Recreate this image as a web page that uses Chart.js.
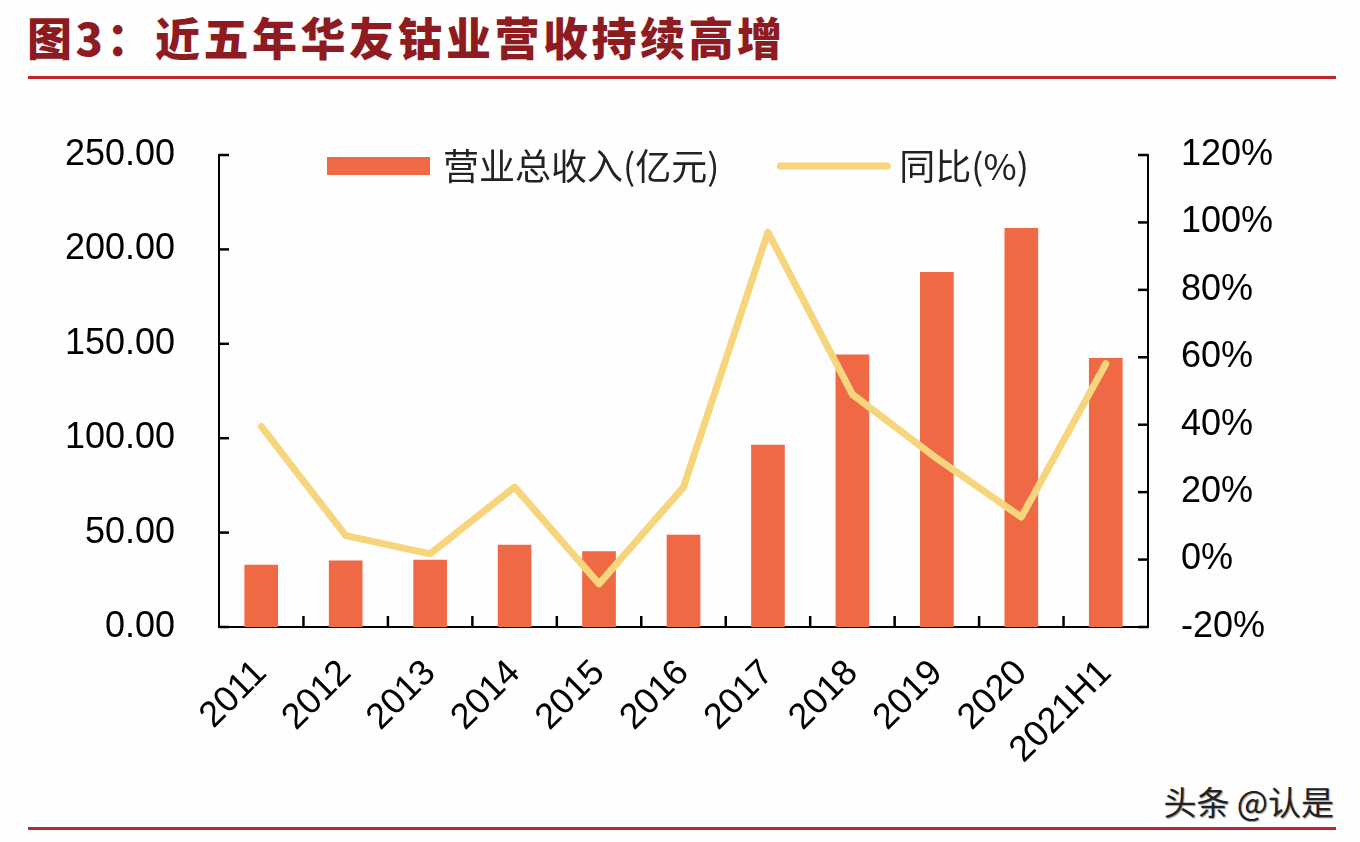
<!DOCTYPE html>
<html><head><meta charset="utf-8">
<script src="https://cdn.jsdelivr.net/npm/chart.js@4"></script>
<style>
html,body{margin:0;padding:0;background:#fefefe;}
#wrap{position:relative;width:1360px;height:842px;overflow:hidden;}
#title{position:absolute;left:27px;top:7px;font-family:"Noto Sans CJK SC";font-weight:900;font-size:45px;color:#8e1b1f;letter-spacing:3.5px;line-height:60px;white-space:nowrap;}
.rule{position:absolute;left:28px;width:1308px;height:3px;background:#c0272d;}
#wm{position:absolute;right:26px;top:778px;font-family:"Noto Sans CJK SC";font-size:33px;color:#222;text-shadow:1px 1px 1px #999;line-height:46px;}
canvas{position:absolute;left:0;top:0;}
</style></head>
<body><div id="wrap">
<div id="title">图3：近五年华友钴业营收持续高增</div>
<div class="rule" style="top:76px"></div>
<div class="rule" style="top:827px"></div>
<div id="wm">头条 @认是</div>
<canvas id="c" width="1360" height="842"></canvas>
</div>
<script>
const categories = ["2011","2012","2013","2014","2015","2016","2017","2018","2019","2020","2021H1"];
const revenue = [32.8, 35.1, 35.5, 43.4, 39.9, 48.7, 96.4, 144.1, 187.9, 211.2, 142.3];
const yoy = [39.5, 7.1, 1.7, 21.5, -7.2, 21.5, 97.1, 49.0, 30.0, 12.6, 58.1];
const revenueLabel = "营业总收入(亿元)";
const yoyLabel = "同比(%)";
const leftTicks = [0, 50, 100, 150, 200, 250];
const rightTicks = [-20, 0, 20, 40, 60, 80, 100, 120];

const numFont = {family: "'Liberation Sans', Arial, sans-serif", size: 36};
const barColor = "#ef6944";
const lineColor = "#f6d57c";

const innerTicks = {
  id: 'innerTicks',
  afterDatasetsDraw(chart) {
    const ctx = chart.ctx, a = chart.chartArea;
    ctx.save();
    ctx.strokeStyle = '#000'; ctx.lineWidth = 2.5;
    const yl = chart.scales.y, yr = chart.scales.y1, x = chart.scales.x;
    yl.ticks.forEach(t => { const p = yl.getPixelForValue(t.value); ctx.beginPath(); ctx.moveTo(a.left, p); ctx.lineTo(a.left + 10, p); ctx.stroke(); });
    yr.ticks.forEach(t => { const p = yr.getPixelForValue(t.value); ctx.beginPath(); ctx.moveTo(a.right, p); ctx.lineTo(a.right - 10, p); ctx.stroke(); });
    const n = categories.length;
    for (let i = 1; i < n; i++) {
      const p = (x.getPixelForValue(i - 1) + x.getPixelForValue(i)) / 2;
      ctx.beginPath(); ctx.moveTo(p, a.bottom); ctx.lineTo(p, a.bottom - 11); ctx.stroke();
    }
    ctx.restore();
  }
};

const customLegend = {
  id: 'customLegend',
  afterDraw(chart) {
    const ctx = chart.ctx, a = chart.chartArea;
    ctx.save();
    ctx.font = "36px 'Noto Sans CJK SC'";
    ctx.textBaseline = 'middle';
    const ds = chart.data.datasets;
    const bar = ds.find(d => d.type === 'bar'), line = ds.find(d => d.type === 'line');
    const cy = a.top + 11;
    let xx = a.left + 108;
    ctx.fillStyle = bar.backgroundColor;
    ctx.fillRect(xx, cy - 9, 103, 18);
    xx += 103 + 13;
    ctx.fillStyle = '#222';
    ctx.fillText(bar.label, xx, cy);
    xx += ctx.measureText(bar.label).width + 61;
    ctx.strokeStyle = line.borderColor; ctx.lineWidth = 7; ctx.lineCap = 'round';
    ctx.beginPath(); ctx.moveTo(xx, cy); ctx.lineTo(xx + 107, cy); ctx.stroke();
    xx += 107 + 12;
    ctx.fillText(line.label, xx, cy);
    ctx.restore();
  }
};

new Chart(document.getElementById('c'), {
  data: {
    labels: categories,
    datasets: [
      {type: 'bar', label: revenueLabel, data: revenue, yAxisID: 'y', backgroundColor: barColor, barThickness: 33, order: 1},
      {type: 'line', label: yoyLabel, data: yoy, yAxisID: 'y1', borderColor: lineColor, backgroundColor: lineColor,
       borderWidth: 7, pointRadius: 0, tension: 0, borderCapStyle: 'round', borderJoinStyle: 'round', order: 0}
    ]
  },
  options: {
    responsive: false, animation: false,
    layout: {padding: {top: 155, left: 0, right: 0, bottom: 0}},
    plugins: {legend: {display: false}, tooltip: {enabled: false}},
    scales: {
      x: {
        offset: true,
        grid: {display: false, drawTicks: false},
        border: {display: true, color: '#000', width: 2},
        ticks: {color: '#000', font: numFont, maxRotation: 45, minRotation: 45, padding: 25, autoSkip: false},
        afterFit: s => { s.height = 215; }
      },
      y: {
        position: 'left', min: 0, max: 250,
        afterBuildTicks: s => { s.ticks = leftTicks.map(v => ({value: v})); },
        grid: {display: false, drawTicks: false},
        border: {display: true, color: '#000', width: 2},
        ticks: {color: '#000', font: numFont, padding: 44, callback: v => Number(v).toFixed(2)},
        afterFit: s => { s.width = 219; }
      },
      y1: {
        position: 'right', min: -20, max: 120,
        afterBuildTicks: s => { s.ticks = rightTicks.map(v => ({value: v})); },
        grid: {display: false, drawTicks: false},
        border: {display: true, color: '#000', width: 2},
        ticks: {color: '#000', font: numFont, padding: 33, callback: v => v + '%'},
        afterFit: s => { s.width = 212; }
      }
    }
  },
  plugins: [innerTicks, customLegend]
});
</script>
</body></html>
